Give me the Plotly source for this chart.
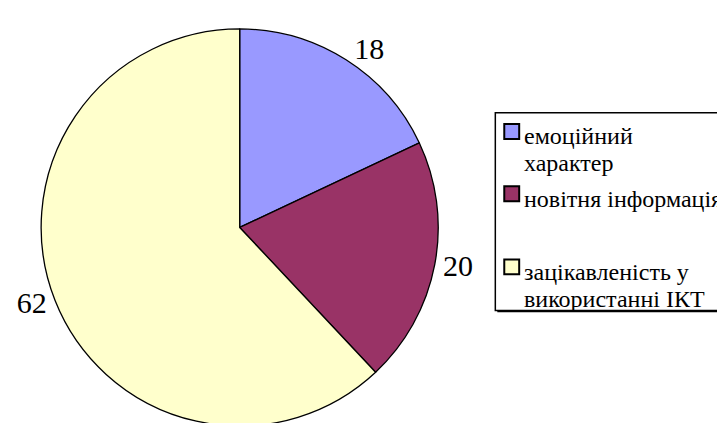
import plotly.graph_objects as go

# ---- data ----
labels = ["емоційний<br>характер", "новітня інформація", "зацікавленість у<br>використанні ІКТ"]
values = [18, 20, 62]
colors = ["#9999FF", "#993366", "#FFFFCC"]

W, H = 725, 423
SERIF = "Liberation Serif"

fig = go.Figure(go.Pie(
    labels=labels,
    values=values,
    sort=False,
    direction="clockwise",
    rotation=0,
    marker=dict(colors=colors, line=dict(color="black", width=1.3)),
    textposition="outside",
    texttemplate="%{value}",
    textfont=dict(family=SERIF, size=30, color="black"),
    domain=dict(x=[0.0386, 0.593], y=[0.0, 0.95]),
    hoverinfo="label+value",
    showlegend=False,
))

def px(x):
    return x / W

def py(y):
    return 1 - y / H

# legend box with shadow
shapes = [
    dict(type="rect", xref="paper", yref="paper", x0=px(488), x1=px(760), y0=py(109), y1=py(308),
         fillcolor="black", line=dict(width=0), layer="above"),
    dict(type="rect", xref="paper", yref="paper", x0=px(486), x1=px(758), y0=py(106), y1=py(306),
         fillcolor="white", line=dict(color="black", width=1.5), layer="above"),
]

line_y0 = [130, 193, 267]
line_gap = 27
sq = 15
annotations = []
for lab, col, y0 in zip(labels, colors, line_y0):
    cy = y0 - 5
    shapes.append(dict(type="rect", xref="paper", yref="paper",
                       x0=px(495), x1=px(495 + sq), y0=py(cy - sq / 2), y1=py(cy + sq / 2),
                       fillcolor=col, line=dict(color="black", width=2), layer="above"))
    for k, part in enumerate(lab.split("<br>")):
        annotations.append(dict(x=px(513), y=py(y0 + k * line_gap), xref="paper", yref="paper",
                                xanchor="left", yanchor="middle", text=part, showarrow=False,
                                font=dict(family=SERIF, size=24, color="black")))

fig.update_layout(
    width=W, height=H,
    margin=dict(l=0, r=0, t=0, b=0),
    paper_bgcolor="white",
    plot_bgcolor="white",
    shapes=shapes,
    annotations=annotations,
)

fig.write_html("out.html")
